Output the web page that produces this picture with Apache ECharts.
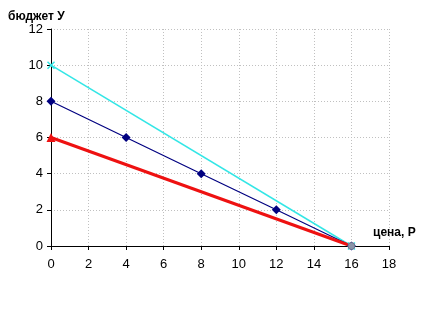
<!DOCTYPE html>
<html><head><meta charset="utf-8">
<script src="https://cdn.jsdelivr.net/npm/echarts@6/dist/echarts.min.js"></script>
<style>html,body{margin:0;padding:0;background:#fff}#c{width:429px;height:322px}</style>
</head><body><div id="c"></div>
<script>
const xTicks = [0,2,4,6,8,10,12,14,16,18];
const yTicks = [0,2,4,6,8,10,12];
const cyanLine = [[0,10],[16,0]];
const navyLine = [[0,8],[4,6],[8,4],[12,2],[16,0]];
const redLine = [[0,6],[16,0]];
const yTitle = 'бюджет У';
const xTitle = 'цена, Р';

const chart = echarts.init(document.getElementById('c'));
const font = 'Liberation Sans, Arial, sans-serif';
const redData = redLine.map((p,i)=> i===redLine.length-1 ?
  {value:p,symbol:'circle',symbolSize:7,itemStyle:{color:'#8a94a8',borderColor:'#6a7490',borderWidth:1}} : {value:p});
chart.setOption({
  animation:false,
  grid:{left:51,right:40,top:29,bottom:76},
  xAxis:{type:'value',min:0,max:18,interval:2,
    axisLine:{onZero:false,lineStyle:{color:'#000',width:1}},
    axisTick:{show:true,inside:false,length:4,lineStyle:{color:'#000'}},
    axisLabel:{color:'#000',fontSize:13,fontFamily:font,margin:12},
    splitLine:{show:true,lineStyle:{color:'#c0c0c0',type:[1,2],width:1}}},
  yAxis:{type:'value',min:0,max:12,interval:2,
    axisLine:{show:true,lineStyle:{color:'#000',width:1}},
    axisTick:{show:true,length:4,lineStyle:{color:'#000'}},
    axisLabel:{color:'#000',fontSize:13,fontFamily:font,margin:8},
    splitLine:{show:true,lineStyle:{color:'#c0c0c0',type:[1,2],width:1}}},
  graphic:[
    {type:'text',left:8,top:11,style:{text:yTitle,font:'bold 12px '+font,fill:'#000'}},
    {type:'text',left:373,top:227,style:{text:xTitle,font:'bold 12px '+font,fill:'#000'}}
  ],
  series:[
    {type:'line',data:cyanLine,symbol:'path://M0,0L10,10M10,0L0,10',symbolSize:7,
      lineStyle:{color:'#33e6e6',width:1.5},itemStyle:{color:'#33e6e6',borderColor:'#33e6e6',borderWidth:1.5}},
    {type:'line',data:navyLine,symbol:'diamond',symbolSize:9,
      lineStyle:{color:'#000080',width:1.2},itemStyle:{color:'#000080'}},
    {type:'line',data:redData,symbol:'triangle',symbolSize:9,
      lineStyle:{color:'#ee1111',width:3},itemStyle:{color:'#ee1111'}}
  ]
});
</script></body></html>
